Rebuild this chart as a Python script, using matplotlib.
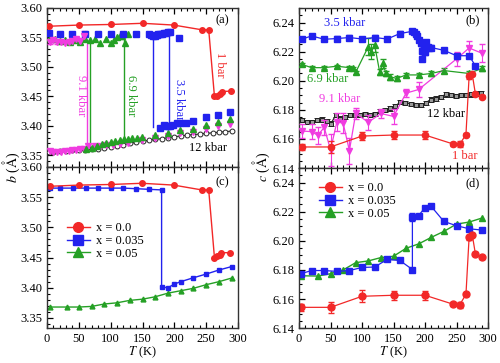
import numpy as np
import matplotlib.pyplot as plt
from matplotlib.ticker import MultipleLocator
from matplotlib.lines import Line2D

plt.rcParams['font.family'] = ['Liberation Serif', 'DejaVu Serif']
plt.rcParams['mathtext.fontset'] = 'stix'
plt.rcParams['font.size'] = 9

# ================= colours =================
c_red = '#f22828'
c_blue = '#2222ee'
c_green = '#25a025'
c_mag = '#f03ce0'
c_blk = '#222222'

# ================= panel (a): b vs T under pressure =================
T_a_1bar = [3, 50, 100, 150, 199, 243, 254, 263, 267, 271, 275, 289]
b_a_1bar = [3.569, 3.571, 3.572, 3.574, 3.571, 3.563, 3.563, 3.450, 3.451, 3.454, 3.458, 3.459]

T_a_35_hi = [3, 20, 40, 60, 80, 100, 120, 140, 160, 163, 166, 169, 172, 175, 178, 181, 184, 187, 190, 193, 208]
b_a_35_hi = [3.557, 3.556, 3.556, 3.556, 3.556, 3.556, 3.556, 3.556, 3.556, 3.554, 3.553, 3.553,
             3.554, 3.555, 3.556, 3.556, 3.557, 3.558, 3.559, 3.560, 3.549]
T_a_35_lo = [178, 183, 187, 190, 193, 198, 204, 209, 219, 229, 250, 269, 288]
b_a_35_lo = [3.397, 3.401, 3.399, 3.399, 3.399, 3.401, 3.404, 3.405, 3.404, 3.408, 3.415, 3.418, 3.424]

T_a_69_hi = [4, 12, 20, 28, 36, 44, 52, 60, 68, 76, 84, 92, 100, 106, 110, 114, 118, 122, 127]
b_a_69_hi = [3.549, 3.547, 3.544, 3.545, 3.543, 3.546, 3.543, 3.547, 3.546, 3.547, 3.540, 3.548,
             3.541, 3.546, 3.551, 3.553, 3.552, 3.541, 3.556]
T_a_69_lo = [62, 70, 78, 86, 93, 100, 107, 114, 121, 128, 134, 141, 149, 170, 190, 209, 229, 249, 269, 288]
b_a_69_lo = [3.360, 3.363, 3.366, 3.369, 3.371, 3.372, 3.374, 3.375, 3.377, 3.378, 3.379, 3.380,
             3.381, 3.385, 3.388, 3.392, 3.395, 3.401, 3.407, 3.412]

T_a_91_hi = [4, 10, 16, 22, 28, 34, 40, 46, 52, 58]
b_a_91_hi = [3.543, 3.546, 3.542, 3.543, 3.541, 3.542, 3.544, 3.547, 3.544, 3.553]
e_a_91_hi = [0.004, 0.004, 0.004, 0.003, 0.003, 0.004, 0.004, 0.004, 0.005, 0.008]
T_a_91_lo = [4, 10, 16, 22, 28, 34, 40, 46, 52, 58, 65, 75, 83, 93, 104, 115, 128, 149, 170, 190,
             209, 229, 249, 269, 288]
b_a_91_lo = [3.357, 3.356, 3.356, 3.356, 3.357, 3.357, 3.358, 3.359, 3.360, 3.360, 3.366, 3.366,
             3.366, 3.367, 3.368, 3.369, 3.371, 3.375, 3.379, 3.382, 3.387, 3.390, 3.395, 3.399, 3.403]

T_a_12 = [3, 10, 20, 30, 40, 50, 60, 70, 80, 90, 100, 110, 120, 130, 140, 150, 160, 170, 180, 190,
          200, 210, 220, 230, 240, 250, 260, 270, 280, 290]
b_a_12 = [3.356, 3.356, 3.357, 3.357, 3.358, 3.358, 3.359, 3.360, 3.361, 3.363, 3.364, 3.366, 3.368,
          3.370, 3.372, 3.374, 3.375, 3.377, 3.378, 3.380, 3.381, 3.383, 3.384, 3.385, 3.386, 3.387,
          3.388, 3.389, 3.390, 3.391]

# transition guide lines in (a): temperature, lower end, upper end
trans_T = [63, 67, 121, 166, 192]
trans_lo = [3.366, 3.360, 3.375, 3.398, 3.402]
trans_hi = [3.538, 3.540, 3.545, 3.553, 3.557]
trans_col = [c_mag, c_green, c_green, c_blue, c_blue]

# ================= panel (b): c vs T under pressure =================
T_b_1bar = [4, 50, 100, 150, 200, 245, 255, 265, 270, 275, 280, 290]
c_b_1bar = [6.1545, 6.1545, 6.162, 6.1627, 6.1627, 6.1565, 6.1563, 6.163, 6.203, 6.2045, 6.191, 6.189]
e_b_1bar = [0.002, 0.004, 0.003, 0.003, 0.003, 0.0015, 0.002, 0.001, 0.002, 0.001, 0.001, 0.001]

T_b_35 = [4, 20, 40, 60, 80, 100, 120, 140, 160, 180, 183, 185, 188, 190, 193, 195, 196, 198, 200,
          202, 204, 207, 210, 230, 250, 270, 280]
c_b_35 = [6.2285, 6.2308, 6.2285, 6.229, 6.2297, 6.2287, 6.2297, 6.2287, 6.2324, 6.234, 6.2333,
          6.232, 6.2308, 6.2278, 6.2257, 6.2207, 6.2152, 6.2234, 6.2195, 6.2264, 6.2234, 6.2225,
          6.2228, 6.2209, 6.2172, 6.2172, 6.2103]

T_b_69 = [4, 20, 40, 60, 80, 85, 90, 110, 115, 120, 128, 133, 138, 145, 155, 170, 190, 210, 230, 270, 290]
c_b_69 = [6.2113, 6.209, 6.209, 6.210, 6.209, 6.2085, 6.2058, 6.2234, 6.220, 6.2246, 6.2062, 6.212,
          6.205, 6.2027, 6.2016, 6.204, 6.204, 6.205, 6.207, 6.205, 6.2085]
e_b_69 = [0.001, 0.001, 0.001, 0.001, 0.001, 0.001, 0.001, 0.006, 0.005, 0.005, 0.002, 0.003, 0.002,
          0.002, 0.0015, 0.0015, 0.0015, 0.002, 0.0015, 0.0015, 0.0015]

T_b_91 = [4, 20, 30, 40, 50, 60, 70, 80, 90, 110, 130, 150, 170, 190, 250, 270, 290]
c_b_91 = [6.1655, 6.165, 6.1625, 6.168, 6.1525, 6.1715, 6.171, 6.152, 6.1775, 6.1715, 6.1775,
          6.1755, 6.1915, 6.194, 6.215, 6.2225, 6.219]
e_b_91 = [0.005, 0.005, 0.006, 0.005, 0.011, 0.006, 0.007, 0.009, 0.004, 0.005, 0.003, 0.005,
          0.003, 0.005, 0.005, 0.005, 0.006]

T_b_12 = [4, 12, 20, 28, 36, 44, 51, 58, 65, 73, 81, 89, 97, 105, 113, 121, 129, 137, 145, 153,
          161, 169, 177, 185, 193, 201, 209, 217, 225, 233, 241, 249, 257, 265, 273, 281, 289]
c_b_12 = [6.1729, 6.1717, 6.1717, 6.1729, 6.1733, 6.1724, 6.1706, 6.1763, 6.174, 6.1752, 6.1763,
          6.1763, 6.1763, 6.177, 6.1763, 6.177, 6.1793, 6.1798, 6.181, 6.1825, 6.1855, 6.1848,
          6.1839, 6.1832, 6.1832, 6.1848, 6.1871, 6.1878, 6.189, 6.1906, 6.190, 6.1894, 6.190,
          6.190, 6.1906, 6.1913, 6.1917]

# ================= panel (c): b vs T for doping x =================
T_c_x0 = [4, 50, 100, 149, 199, 243, 254, 263, 267, 271, 274, 288]
b_c_x0 = [3.568, 3.570, 3.571, 3.573, 3.570, 3.562, 3.562, 3.450, 3.452, 3.455, 3.458, 3.458]
T_c_x035 = [4, 21, 41, 61, 80, 100, 120, 140, 160, 180, 180, 190, 200, 210, 230, 250, 270, 290]
b_c_x035 = [3.565, 3.565, 3.565, 3.565, 3.565, 3.565, 3.565, 3.564, 3.563, 3.562, 3.401, 3.400,
            3.406, 3.410, 3.4165, 3.4226, 3.4293, 3.435]
T_c_x05 = [4, 31, 50, 70, 90, 110, 130, 150, 170, 190, 210, 230, 250, 270, 290]
b_c_x05 = [3.368, 3.368, 3.368, 3.369, 3.373, 3.375, 3.379, 3.381, 3.385, 3.391, 3.395, 3.399,
           3.405, 3.410, 3.416]

# ================= panel (d): c vs T for doping x =================
T_d_x0 = [3, 50, 100, 150, 200, 245, 255, 265, 270, 275, 280, 290]
c_d_x0 = [6.1543, 6.1543, 6.1619, 6.1626, 6.1626, 6.1564, 6.156, 6.1632, 6.2024, 6.2042, 6.191, 6.1887]
e_d_x0 = [0.0025, 0.004, 0.004, 0.003, 0.003, 0.0015, 0.002, 0.001, 0.0015, 0.001, 0.001, 0.001]
T_d_x035 = [3, 20, 40, 60, 80, 100, 120, 140, 160, 180, 180, 190, 200, 210, 230, 250, 270, 290]
c_d_x035 = [6.1774, 6.1796, 6.1796, 6.179, 6.1796, 6.1817, 6.182, 6.1872, 6.1865, 6.1803, 6.2163,
            6.2174, 6.2229, 6.2236, 6.2133, 6.2104, 6.2083, 6.2074]
e_d_x035 = [0.001] * 10 + [0.003] + [0.001] * 7
T_d_x05 = [3, 30, 50, 70, 90, 110, 130, 150, 170, 190, 210, 230, 250, 270, 290]
c_d_x05 = [6.176, 6.1758, 6.1774, 6.180, 6.185, 6.1862, 6.1885, 6.1894, 6.1949, 6.1979, 6.2024,
           6.2065, 6.2115, 6.2129, 6.2156]

legend_labels = ['x = 0.0', 'x = 0.035', 'x = 0.05']

# ================= figure =================
fig = plt.figure(figsize=(5, 3.63), dpi=100)
ax_a = fig.add_axes([0.094, 0.540, 0.382, 0.438])
ax_c = fig.add_axes([0.094, 0.096, 0.382, 0.444])
ax_b = fig.add_axes([0.598, 0.537, 0.378, 0.441])
ax_d = fig.add_axes([0.598, 0.096, 0.378, 0.441])


def style(ax, ylim, ymaj, ymin, xlabels):
    ax.set_xlim(0, 300)
    ax.set_ylim(*ylim)
    ax.xaxis.set_major_locator(MultipleLocator(50))
    ax.xaxis.set_minor_locator(MultipleLocator(10))
    ax.yaxis.set_major_locator(MultipleLocator(ymaj))
    ax.yaxis.set_minor_locator(MultipleLocator(ymin))
    ax.tick_params(which='both', direction='in', top=True, right=False)
    ax.tick_params(which='major', length=4, width=0.9)
    ax.tick_params(which='minor', length=2.5, width=0.8)
    for s in ax.spines.values():
        s.set_linewidth(1.0)
        s.set_color('#333333')
    if not xlabels:
        ax.tick_params(labelbottom=False)
    else:
        ax.set_xlabel(r'$T$ (K)', labelpad=0)


# ---------- (a) ----------
ax = ax_a
for t, lo, hi, col in zip(trans_T, trans_lo, trans_hi, trans_col):
    ax.plot([t, t], [lo, hi], color=col, lw=1.0, zorder=1)
ax.plot(T_a_12, b_a_12, color=c_blk, lw=0.8, marker='o', ms=3.5, mfc='white', mec=c_blk, mew=0.7, zorder=3)
ax.errorbar(T_a_91_hi, b_a_91_hi, yerr=e_a_91_hi, fmt='v', color=c_mag, ms=4, capsize=2, elinewidth=0.7, zorder=4)
ax.plot(T_a_91_lo, b_a_91_lo, 'v', color=c_mag, ms=4, zorder=4)
ax.plot(T_a_69_hi, b_a_69_hi, '^', color=c_green, ms=4, zorder=4)
ax.plot(T_a_69_lo, b_a_69_lo, '^', color=c_green, ms=4, zorder=4)
ax.plot(T_a_35_hi, b_a_35_hi, 's', color=c_blue, ms=4, zorder=4)
ax.plot(T_a_35_lo, b_a_35_lo, 's', color=c_blue, ms=4, zorder=4)
ax.plot(T_a_1bar, b_a_1bar, '-o', color=c_red, lw=1.0, ms=4, zorder=5)
ax.text(53, 3.452, '9.1 kbar', color=c_mag, rotation=-90, ha='center', va='center')
ax.text(132, 3.452, '6.9 kbar', color=c_green, rotation=-90, ha='center', va='center')
ax.text(208, 3.444, '3.5 kbar', color=c_blue, rotation=-90, ha='center', va='center')
ax.text(272, 3.503, '1 bar', color=c_red, rotation=-90, ha='center', va='center')
ax.text(253, 3.362, '12 kbar', color='black', ha='center', va='center')
ax.text(0.92, 0.925, '(a)', transform=ax.transAxes, ha='center', va='center')
style(ax, (3.33, 3.60), 0.05, 0.01, False)

# ---------- (b) ----------
ax = ax_b
eb = dict(capsize=2, elinewidth=0.8, lw=0.9)
ax.errorbar(T_b_12, c_b_12, yerr=0.0015, fmt='-s', color=c_blk, ms=3.5, mfc='#999999', mec=c_blk, mew=0.7, zorder=3, **eb)
ax.errorbar(T_b_91, c_b_91, yerr=e_b_91, fmt='-v', color=c_mag, ms=4.5, zorder=4, **eb)
ax.errorbar(T_b_69, c_b_69, yerr=e_b_69, fmt='-^', color=c_green, ms=4.5, zorder=4, **eb)
ax.errorbar(T_b_35, c_b_35, yerr=0.0015, fmt='-s', color=c_blue, ms=4.5, zorder=4, **eb)
ax.errorbar(T_b_1bar, c_b_1bar, yerr=e_b_1bar, fmt='-o', color=c_red, ms=4.5, zorder=5, **eb)
ax.text(73, 6.240, '3.5 kbar', color=c_blue, ha='center', va='center')
ax.text(46, 6.2015, '6.9 kbar', color=c_green, ha='center', va='center')
ax.text(65, 6.1875, '9.1 kbar', color=c_mag, ha='center', va='center')
ax.text(233, 6.177, '12 kbar', color='black', ha='center', va='center')
ax.text(263, 6.148, '1 bar', color=c_red, ha='center', va='center')
ax.text(0.92, 0.925, '(b)', transform=ax.transAxes, ha='center', va='center')
style(ax, (6.14, 6.25), 0.02, 0.005, False)

# ---------- (c) ----------
ax = ax_c
ax.plot(T_c_x05, b_c_x05, '-^', color=c_green, lw=1.0, ms=3.5)
ax.plot(T_c_x035, b_c_x035, '-s', color=c_blue, lw=1.0, ms=3)
ax.plot(T_c_x0, b_c_x0, '-o', color=c_red, lw=1.0, ms=4)
style(ax, (3.333, 3.60), 0.05, 0.01, True)
ax.text(0.92, 0.905, '(c)', transform=ax.transAxes, ha='center', va='center')

handles = [Line2D([], [], color=c_red, marker='o', ms=7, lw=1.0),
           Line2D([], [], color=c_blue, marker='s', ms=6.5, lw=1.0),
           Line2D([], [], color=c_green, marker='^', ms=7, lw=1.0)]
ax.legend(handles, legend_labels, loc='upper left', bbox_to_anchor=(0.06, 0.71), frameon=False,
          handlelength=1.8, handletextpad=0.5, labelspacing=0.05, borderpad=0.2)

# ---------- (d) ----------
ax = ax_d
ax.plot(T_d_x05, c_d_x05, '-^', color=c_green, lw=1.0, ms=5)
ax.errorbar(T_d_x035, c_d_x035, yerr=e_d_x035, fmt='-s', color=c_blue, ms=5, **eb)
ax.errorbar(T_d_x0, c_d_x0, yerr=e_d_x0, fmt='-o', color=c_red, ms=5, **eb)
style(ax, (6.14, 6.25), 0.02, 0.005, True)
ax.text(0.92, 0.905, '(d)', transform=ax.transAxes, ha='center', va='center')
ax.legend(handles, legend_labels, loc='upper left', bbox_to_anchor=(0.06, 0.965), frameon=False,
          handlelength=1.8, handletextpad=0.5, labelspacing=0.05, borderpad=0.2)

# shared y labels
fig.text(0.022, 0.54, r'$b$ ($\mathrm{\AA}$)', rotation=90, ha='center', va='center', fontsize=10)
fig.text(0.522, 0.54, r'$c$ ($\mathrm{\AA}$)', rotation=90, ha='center', va='center', fontsize=10)

fig.savefig('out.png', dpi=100)
